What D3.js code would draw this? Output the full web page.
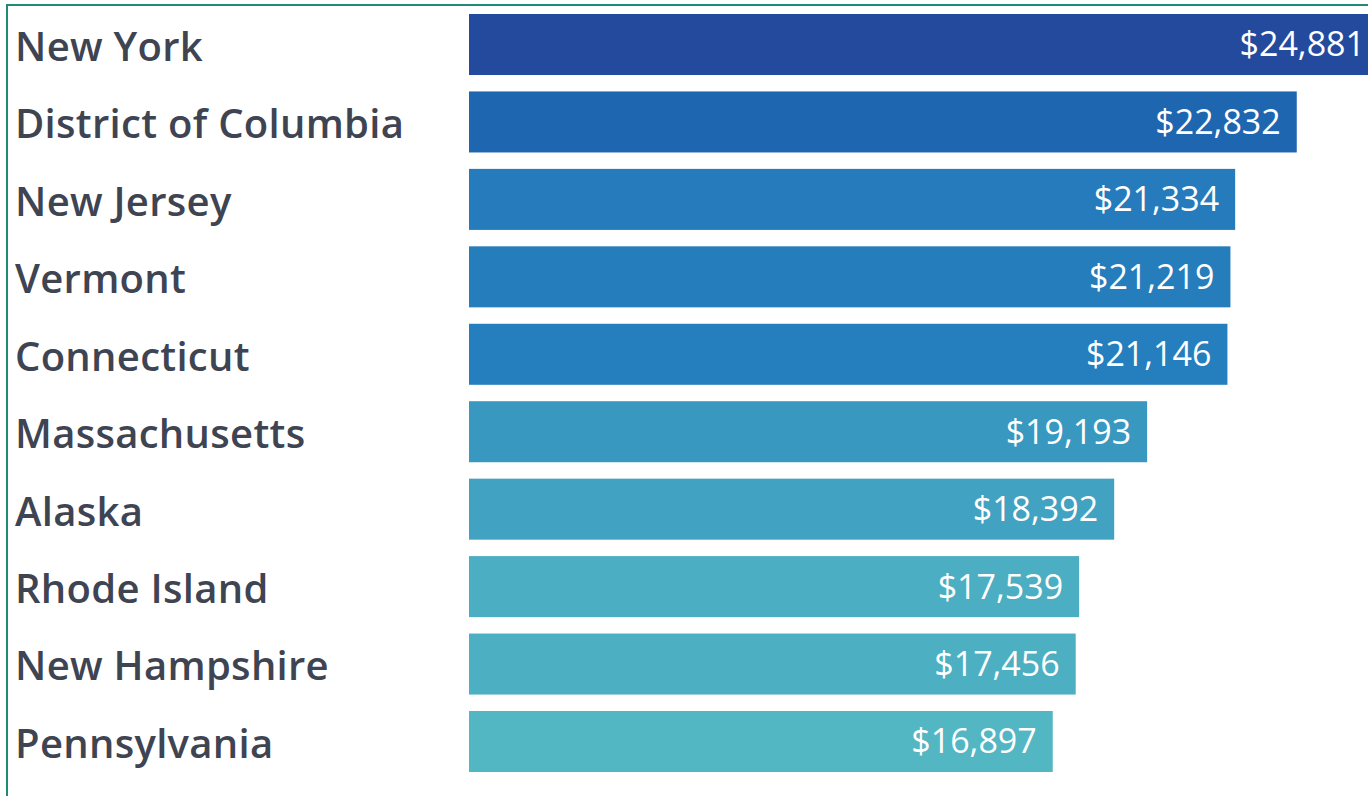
<!DOCTYPE html>
<html>
<head>
<meta charset="utf-8">
<script src="https://cdn.jsdelivr.net/npm/d3@7"></script>
<style>
  body { margin: 0; background: #fff; overflow: hidden; }
</style>
</head>
<body>
<script>
// states and their values
var states = ["New York", "District of Columbia", "New Jersey", "Vermont", "Connecticut",
              "Massachusetts", "Alaska", "Rhode Island", "New Hampshire", "Pennsylvania"];
var values = [24881, 22832, 21334, 21219, 21146, 19193, 18392, 17539, 17456, 16897];

var data = states.map(function(s, i) { return { state: s, value: values[i] }; });

var width = 1368; // canvas
var height = 796;
var barLeft = 469;

var svg = d3.select("body").append("svg")
    .attr("width", width)
    .attr("height", height);

// frame (only top and left edges fall inside the picture)
svg.append("rect")
    .attr("x", 7)
    .attr("y", 5)
    .attr("width", width + 20)
    .attr("height", height + 20)
    .attr("fill", "none")
    .attr("stroke", "#1f8a78")
    .attr("stroke-width", 2);

// axis doesn't start at zero in the original, the bars run past the right edge
var xScale = d3.scaleLinear()
    .domain([2700, 24881])
    .range([barLeft, 1381]);

var yScale = d3.scaleBand()
    .domain(states)
    .range([14, 772])
    .paddingInner(0.212);

var color = d3.scaleLinear()
    .domain([16897, 21000, 22832, 24881])
    .range(["#52b6c3", "#2680be", "#1f66b1", "#234a9c"]);

var rows = svg.selectAll(".row")
    .data(data)
  .enter().append("g")
    .attr("class", "row");

rows.append("rect")
    .attr("x", barLeft)
    .attr("y", function(d) { return yScale(d.state); })
    .attr("width", function(d) { return xScale(d.value) - barLeft; })
    .attr("height", yScale.bandwidth())
    .attr("fill", function(d) { return color(d.value); });

rows.append("text")
    .attr("x", 15)
    .attr("y", function(d) { return yScale(d.state) + yScale.bandwidth() / 2; })
    .attr("dy", "0.41em")
    .style("font-family", "'Open Sans', sans-serif")
    .style("font-size", "40px")
    .style("font-weight", 600)
    .style("letter-spacing", "0.3px")
    .style("fill", "#3e4452")
    .text(function(d) { return d.state; });

var fmt = d3.format("$,");
rows.append("text")
    .attr("x", function(d) { return xScale(d.value) - 16; })
    .attr("y", function(d) { return yScale(d.state) + yScale.bandwidth() / 2; })
    .attr("dy", "0.35em")
    .attr("text-anchor", "end")
    .style("font-family", "'Open Sans', sans-serif")
    .style("font-size", "34px")
    .style("fill", "#ffffff")
    .text(function(d) { return fmt(d.value); });
</script>
</body>
</html>
